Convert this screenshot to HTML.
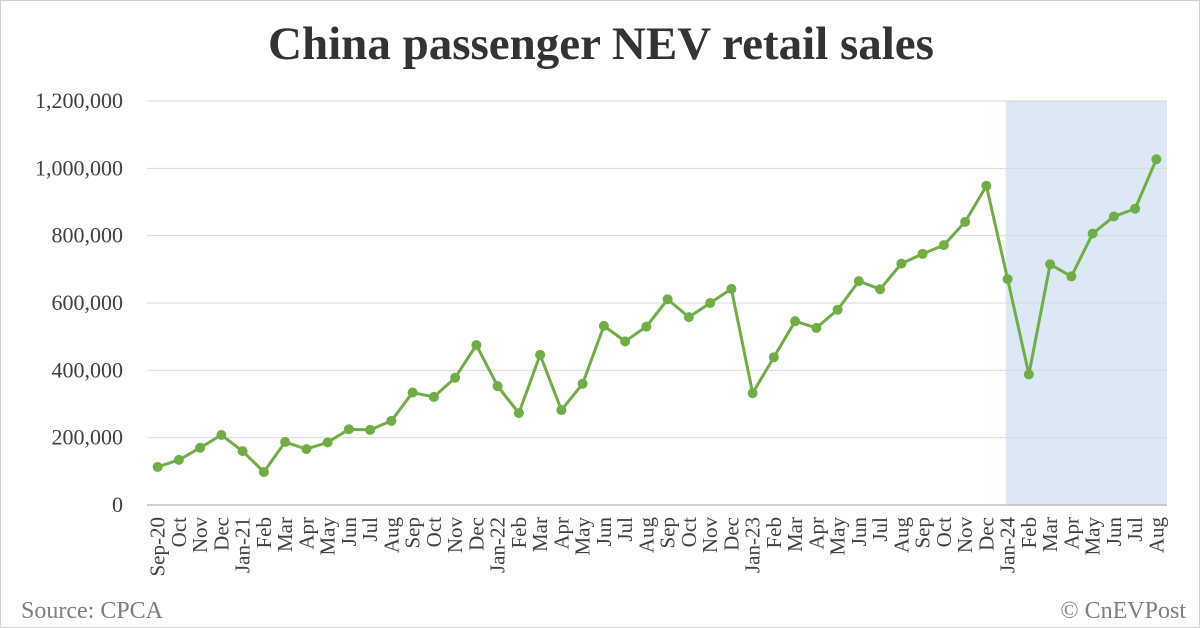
<!DOCTYPE html>
<html><head><meta charset="utf-8"><style>
html,body{margin:0;padding:0;background:#fff;}
#wrap{width:1200px;height:628px;position:relative;overflow:hidden;box-sizing:border-box;border:1px solid #d0d0d0;}
svg{position:absolute;left:0;top:0;font-family:"Liberation Serif",serif;}
</style></head><body>
<div id="wrap">
<svg id="chart" width="1200" height="628"></svg>
</div>
<script>
const categories=["Sep-20","Oct","Nov","Dec","Jan-21","Feb","Mar","Apr","May","Jun","Jul","Aug","Sep","Oct","Nov","Dec","Jan-22","Feb","Mar","Apr","May","Jun","Jul","Aug","Sep","Oct","Nov","Dec","Jan-23","Feb","Mar","Apr","May","Jun","Jul","Aug","Sep","Oct","Nov","Dec","Jan-24","Feb","Mar","Apr","May","Jun","Jul","Aug"];
const salesValues=[113000,134000,170000,208000,160000,98000,187000,166000,186000,225000,223000,250000,334000,321000,378000,475000,353000,273000,446000,282000,360000,532000,486000,530000,611000,558000,600000,642000,332000,439000,546000,526000,580000,665000,641000,717000,746000,772000,841000,948000,671000,388000,715000,679000,806000,857000,880000,1027000];
const yTicks=[0,200000,400000,600000,800000,1000000,1200000];
const yTickLabels=["0","200,000","400,000","600,000","800,000","1,000,000","1,200,000"];
const highlightStartIndex=40;

const NS="http://www.w3.org/2000/svg";
const svg=document.getElementById('chart');
const L=146,R=1166,T=100,B=504,YMAX=1200000;
const band=(R-L)/categories.length;
const x=i=>L+band*(i+0.5);
const y=v=>B-(v/YMAX)*(B-T);
function mk(tag,attrs){const e=document.createElementNS(NS,tag);for(const k in attrs)e.setAttribute(k,attrs[k]);svg.appendChild(e);return e;}

let t=mk('text',{x:600,y:58,'text-anchor':'middle','font-size':47,'font-weight':'bold',fill:'#333'});
t.textContent='China passenger NEV retail sales';



let hl=mk('rect',{x:x(highlightStartIndex)-2,y:T,width:R-(x(highlightStartIndex)-2),height:B-T,fill:'#dce8f5'});



yTicks.forEach((v,i)=>{
  if(v>0){const g=mk('line',{x1:L,x2:R,y1:y(v),y2:y(v),stroke:'#d9d9d9','stroke-width':1});
  
  }
  const l=mk('text',{x:122,y:y(v)+7,'text-anchor':'end','font-size':22,fill:'#404040'});
  l.textContent=yTickLabels[i];
  
  
});
let ax=mk('line',{x1:L,x2:R,y1:B,y2:B,stroke:'#bfbfbf','stroke-width':1.5});



categories.forEach((c,i)=>{
  const l=mk('text',{transform:`translate(${x(i)+7},${B+12}) rotate(-90)`,'text-anchor':'end','font-size':21,fill:'#404040'});
  l.textContent=c;
  
  
});

let line=mk('polyline',{points:salesValues.map((v,i)=>x(i)+','+y(v)).join(' '),fill:'none',stroke:'#70ad47','stroke-width':3,'stroke-linejoin':'round'});


salesValues.forEach((v,i)=>{
  const p=mk('circle',{cx:x(i),cy:y(v),r:5,fill:'#70ad47'});
  
  
});

let s=mk('text',{x:20,y:617,'font-size':24,fill:'#7f7f7f'});
s.textContent='Source: CPCA';


let c=mk('text',{x:1185,y:617,'text-anchor':'end','font-size':24,fill:'#7f7f7f'});
c.textContent='© CnEVPost';


</script>
</body></html>
